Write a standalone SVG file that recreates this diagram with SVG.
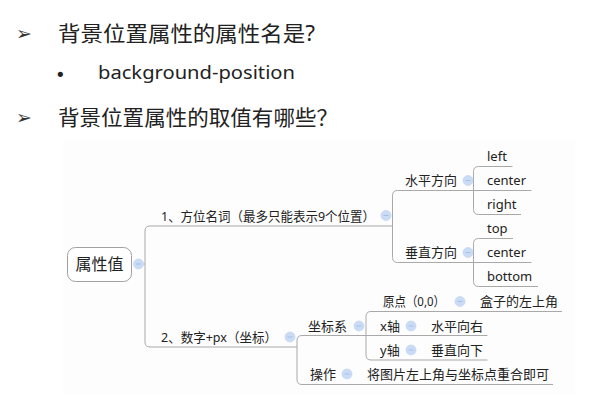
<svg xmlns="http://www.w3.org/2000/svg" width="603" height="404" viewBox="0 0 603 404">
<defs>
<style>
.h{font-family:"Noto Sans","Noto Sans CJK SC",sans-serif;font-size:21px;fill:#222}
.t{font-family:"Noto Sans","Noto Sans CJK SC",sans-serif;font-size:13px;fill:#222}
.ln{fill:none;stroke:#a9a9a9;stroke-width:1}
</style>
<g id="col"><circle cx="0" cy="0" r="5" fill="#cadcf5" stroke="#bcd0ee" stroke-width="0.6"/><line x1="-2.5" y1="0" x2="2.5" y2="0" stroke="#a8bfe2" stroke-width="1"/></g>
</defs>
<rect width="603" height="404" fill="#ffffff"/>
<rect x="63" y="140" width="512" height="254" fill="#fdfdfd"/>

<g id="heading">
<text x="16" y="40" font-family="DejaVu Sans,sans-serif" font-size="19" fill="#333">➢</text>
<text class="h" x="58" y="41" textLength="257" lengthAdjust="spacingAndGlyphs">背景位置属性的属性名是?</text>
<text x="55" y="81" font-family="DejaVu Sans,sans-serif" font-size="18" fill="#222">•</text>
<text x="98" y="79" font-family="Noto Sans,sans-serif" font-size="18" fill="#222" textLength="197" lengthAdjust="spacingAndGlyphs">background-position</text>
<text x="16" y="124" font-family="DejaVu Sans,sans-serif" font-size="19" fill="#333">➢</text>
<text class="h" x="58" y="125" textLength="280" lengthAdjust="spacingAndGlyphs">背景位置属性的取值有哪些？</text>
</g>

<g id="connectors">
<path class="ln" d="M143.5,264 H145 M392.5,226 H150 Q145,226 145,231 V342 Q145,347 150,347 H297"/>
<path class="ln" d="M531.5,190.5 H397.5 Q392.5,190.5 392.5,195.5 V257.5 Q392.5,262.5 397.5,262.5 H531.5"/>
<path class="ln" d="M512.5,166.5 H478.5 Q473.5,166.5 473.5,171.5 V209.5 Q473.5,214.5 478.5,214.5 H521"/>
<path class="ln" d="M513,238.5 H478.5 Q473.5,238.5 473.5,243.5 V281.5 Q473.5,286.5 478.5,286.5 H538"/>
<path class="ln" d="M366,335.5 H302 Q297,335.5 297,340.5 V379.5 Q297,384.5 302,384.5 H553"/>
<path class="ln" d="M562,311.5 H371 Q366,311.5 366,316.5 V355 Q366,360 371,360 H487.5 M366,335.5 H487.5"/>
</g>

<g id="root">
<rect x="67.5" y="247.5" width="64" height="34" rx="8" fill="#ffffff" stroke="#a0a0a0"/>
<text x="99.5" y="270" text-anchor="middle" font-family="Noto Sans,Noto Sans CJK SC,sans-serif" font-size="16" fill="#222">属性值</text>
<use href="#col" x="138.5" y="264"/>
</g>

<g id="n1">
<text class="t" x="161" y="220.5" textLength="214" lengthAdjust="spacingAndGlyphs">1、方位名词（最多只能表示9个位置）</text>
<use href="#col" x="386" y="215.5"/>
</g>
<g id="n1a">
<text class="t" x="405" y="185">水平方向</text>
<use href="#col" x="468" y="180.5"/>
</g>
<g id="n1a1"><text class="t" x="487" y="161">left</text></g>
<g id="n1a2"><text class="t" x="487" y="185">center</text></g>
<g id="n1a3"><text class="t" x="487" y="209">right</text></g>
<g id="n1b">
<text class="t" x="405" y="257">垂直方向</text>
<use href="#col" x="468" y="252.5"/>
</g>
<g id="n1b1"><text class="t" x="487" y="233">top</text></g>
<g id="n1b2"><text class="t" x="487" y="257">center</text></g>
<g id="n1b3"><text class="t" x="487" y="281">bottom</text></g>

<g id="n2">
<text class="t" x="161" y="341.5" textLength="116" lengthAdjust="spacingAndGlyphs">2、数字+px（坐标）</text>
<use href="#col" x="290" y="337"/>
</g>
<g id="n2a">
<text class="t" x="308" y="330.5">坐标系</text>
<use href="#col" x="359" y="326"/>
</g>
<g id="n2a1">
<text class="t" x="383" y="306" textLength="62" lengthAdjust="spacingAndGlyphs">原点（0,0）</text>
<use href="#col" x="460" y="301.5"/>
</g>
<g id="n2a1c"><text class="t" x="480" y="306">盒子的左上角</text></g>
<g id="n2a2">
<text class="t" x="380" y="330.5">x轴</text>
<use href="#col" x="411" y="326"/>
</g>
<g id="n2a2c"><text class="t" x="431" y="330.5">水平向右</text></g>
<g id="n2a3">
<text class="t" x="380" y="354.5">y轴</text>
<use href="#col" x="411" y="350"/>
</g>
<g id="n2a3c"><text class="t" x="431" y="354.5">垂直向下</text></g>
<g id="n2b">
<text class="t" x="310" y="378.5">操作</text>
<use href="#col" x="347" y="374"/>
</g>
<g id="n2bc"><text class="t" x="367" y="378.5">将图片左上角与坐标点重合即可</text></g>
</svg>
